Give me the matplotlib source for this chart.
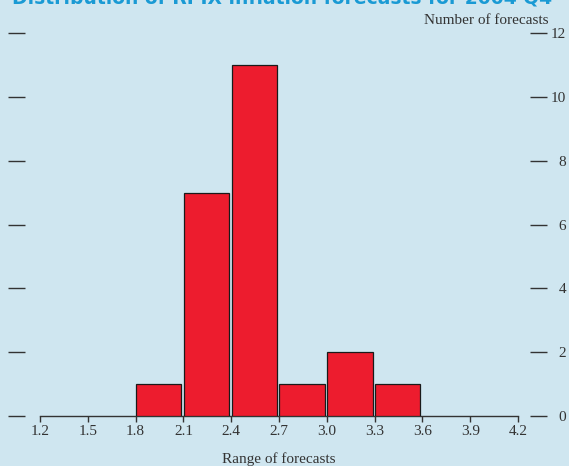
import matplotlib
matplotlib.use("Agg")
import matplotlib.pyplot as plt
import numpy as np

# ── data ───────────────────────────────────────────────────────────────────────
BIN_LEFTS = [1.8, 2.1, 2.4, 2.7, 3.0, 3.3]
COUNTS    = [1, 7, 11, 1, 2, 1]
BIN_WIDTH = 0.3
X_TICKS   = [1.2, 1.5, 1.8, 2.1, 2.4, 2.7, 3.0, 3.3, 3.6, 3.9, 4.2]
X_LABELS  = ["1.2", "1.5", "1.8", "2.1", "2.4", "2.7", "3.0", "3.3", "3.6", "3.9", "4.2"]
Y_TICKS   = [0, 2, 4, 6, 8, 10, 12]

BG    = "#cfe6f0"
RED   = "#ed1c2e"
INK   = "#333333"
TITLE = "#1a9ad4"

W, H = 569, 466
plt.rcParams["font.family"] = ["Liberation Serif", "DejaVu Serif"]

fig = plt.figure(figsize=(W / 100, H / 100), dpi=100, facecolor=BG)
# axes from px 25 to 530 horizontally, y=0 at px 416, y=12 at px 33
ax = fig.add_axes([25 / W, (H - 416) / H, (530 - 25) / W, (416 - 33) / H])
ax.set_facecolor(BG)

px_per_unit = (518 - 40) / 3.0
ax.set_xlim(1.2 - 15 / px_per_unit, 4.2 + 12 / px_per_unit)
ax.set_ylim(0, 12)

ax.bar(np.array(BIN_LEFTS) + 0.003, COUNTS, width=BIN_WIDTH - 0.015, align="edge",
       color=RED, edgecolor="#1a1a1a", linewidth=0.9, zorder=3)

for s in ["left", "right", "top"]:
    ax.spines[s].set_visible(False)
ax.spines["bottom"].set_bounds(1.2, 4.2)
ax.spines["bottom"].set_color(INK)
ax.spines["bottom"].set_linewidth(1.0)

ax.set_xticks(X_TICKS)
ax.set_xticklabels(X_LABELS)
ax.tick_params(axis="x", direction="out", length=4.5, width=1.0, color=INK,
               labelsize=11, labelcolor=INK, pad=2)

ax.set_yticks(Y_TICKS)
ax.tick_params(axis="y", which="both", left=True, right=True, labelleft=False,
               labelright=True, direction="out", length=12.5, width=1.0,
               color=INK, labelsize=11, labelcolor=INK, pad=13.5)
for lab in ax.get_yticklabels():
    lab.set_horizontalalignment("right")

fig.text(548 / W, 1 - 20 / H, "Number of forecasts", ha="right", va="center",
         fontsize=11, color=INK)
fig.text(279 / W, 1 - 459 / H, "Range of forecasts", ha="center", va="center",
         fontsize=11, color=INK)
fig.text(12 / W, 1 - 3 / H, "Distribution of RPIX inflation forecasts for 2004 Q4",
         ha="left", va="baseline", fontsize=13.5, fontweight="bold", color=TITLE,
         family=["DejaVu Sans"])

fig.savefig("out.png", dpi=100, facecolor=BG)
